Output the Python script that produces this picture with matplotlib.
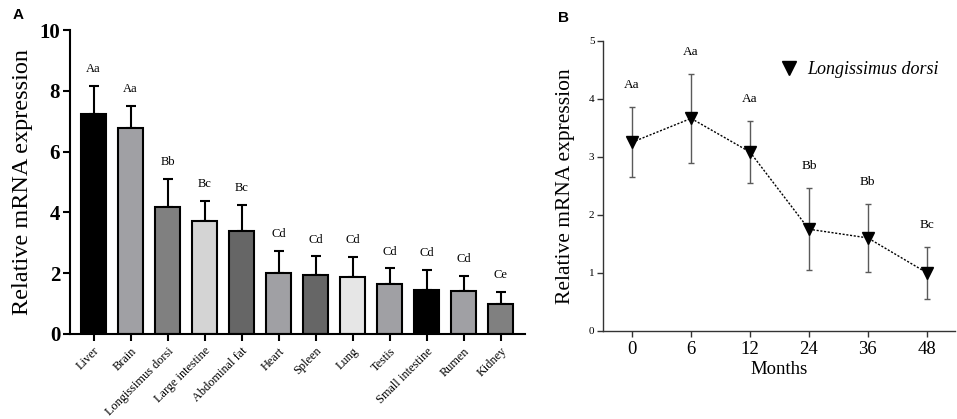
import matplotlib
matplotlib.use("Agg")
import matplotlib.pyplot as plt
import numpy as np

plt.rcParams['font.family'] = ['Liberation Serif', 'DejaVu Serif']

# Panel A data
tissues = ["Liver", "Brain", "Longissimus dorsi", "Large intestine", "Abdominal fat",
           "Heart", "Spleen", "Lung", "Testis", "Small intestine", "Rumen", "Kidney"]
tissue_means = [7.23, 6.77, 4.19, 3.71, 3.38, 2.02, 1.94, 1.88, 1.64, 1.46, 1.40, 0.99]
tissue_errs = [0.94, 0.73, 0.91, 0.67, 0.86, 0.71, 0.61, 0.65, 0.52, 0.64, 0.51, 0.40]
tissue_letters = ["Aa", "Aa", "Bb", "Bc", "Bc", "Cd", "Cd", "Cd", "Cd", "Cd", "Cd", "Ce"]
tissue_colors = ["#000000", "#a0a0a4", "#808080", "#d4d4d4", "#666666", "#a0a0a4",
                 "#666666", "#e6e6e6", "#a0a0a4", "#000000", "#a0a0a4", "#808080"]

# Panel B data
months = ["0", "6", "12", "24", "36", "48"]
month_means = [3.25, 3.66, 3.08, 1.75, 1.60, 1.00]
month_errs = [0.60, 0.77, 0.54, 0.71, 0.58, 0.45]
month_letters = ["Aa", "Aa", "Aa", "Bb", "Bb", "Bc"]

fig = plt.figure(figsize=(9.57, 4.19), dpi=100)

# ---------- Panel A ----------
axA = fig.add_axes([0.0731, 0.2029, 0.4755, 0.7255])
xA = np.arange(len(tissues))
axA.bar(xA, tissue_means, width=0.68, color=tissue_colors, edgecolor="black", linewidth=1.5, zorder=2)
axA.errorbar(xA, tissue_means, yerr=[np.zeros(len(xA)), tissue_errs], fmt="none",
             ecolor="black", elinewidth=1.5, capsize=3.8, capthick=1.5, zorder=1)
for xi, m, e, lab in zip(xA, tissue_means, tissue_errs, tissue_letters):
    axA.text(xi, m + e + 0.55, lab, ha="center", va="center", fontsize=9)
axA.set_xlim(-0.64, 11.66)
axA.set_ylim(0, 10)
axA.set_yticks([0, 2, 4, 6, 8, 10])
axA.set_yticklabels(["0", "2", "4", "6", "8", "10"], fontsize=15, fontweight="bold")
axA.set_xticks(xA)
axA.set_xticklabels(tissues, rotation=45, ha="right", rotation_mode="anchor", fontsize=8.8)
axA.tick_params(axis="both", direction="out", length=5, width=1.5)
axA.tick_params(axis="y", pad=2)
axA.tick_params(axis="x", pad=3)
for s in ["top", "right"]:
    axA.spines[s].set_visible(False)
for s in ["left", "bottom"]:
    axA.spines[s].set_linewidth(1.5)
axA.set_ylabel("Relative mRNA expression", fontsize=17.5, labelpad=5)
fig.text(0.013, 0.965, "A", fontsize=11, fontweight="bold", family="Liberation Sans", va="center")

# ---------- Panel B ----------
axB = fig.add_axes([0.6298, 0.2107, 0.3681, 0.6922])
xB = np.arange(len(months))
axB.errorbar(xB, month_means, yerr=month_errs, fmt="none", ecolor="#5a5a5a",
             elinewidth=1.0, capsize=2.5, capthick=1.0, zorder=1)
axB.plot(xB, month_means, linestyle=(0, (1.5, 1.2)), color="black", linewidth=1.0, zorder=2)
axB.plot(xB, month_means, linestyle="none", marker="v", markersize=9, color="black",
         zorder=3, label="Longissimus dorsi")
for xi, m, e, lab in zip(xB, month_means, month_errs, month_letters):
    axB.text(xi, m + e + 0.38, lab, ha="center", va="center", fontsize=9.5)
axB.set_xlim(-0.5, 5.48)
axB.set_ylim(0, 5)
axB.set_xticks(xB)
axB.set_xticklabels(months, fontsize=13.5)
axB.set_yticks([0, 1, 2, 3, 4, 5])
axB.set_yticklabels(["0", "1", "2", "3", "4", "5"], fontsize=8)
axB.tick_params(axis="both", direction="out", length=4, width=1.0, color="#333333")
axB.tick_params(axis="y", pad=2)
for s in ["top", "right"]:
    axB.spines[s].set_visible(False)
for s in ["left", "bottom"]:
    axB.spines[s].set_linewidth(1.0)
    axB.spines[s].set_color("#333333")
axB.set_xlabel("Months", fontsize=13.5, labelpad=2)
axB.set_ylabel("Relative mRNA expression", fontsize=15.5, labelpad=10)
leg = axB.legend(loc="upper right", bbox_to_anchor=(1.0, 0.985), frameon=False,
                 prop={"family": "Liberation Serif", "style": "italic", "size": 13},
                 handlelength=1.0, handletextpad=0.5, markerscale=1.1)
fig.text(0.583, 0.958, "B", fontsize=11, fontweight="bold", family="Liberation Sans", va="center")

fig.savefig("out.png", dpi=100)
